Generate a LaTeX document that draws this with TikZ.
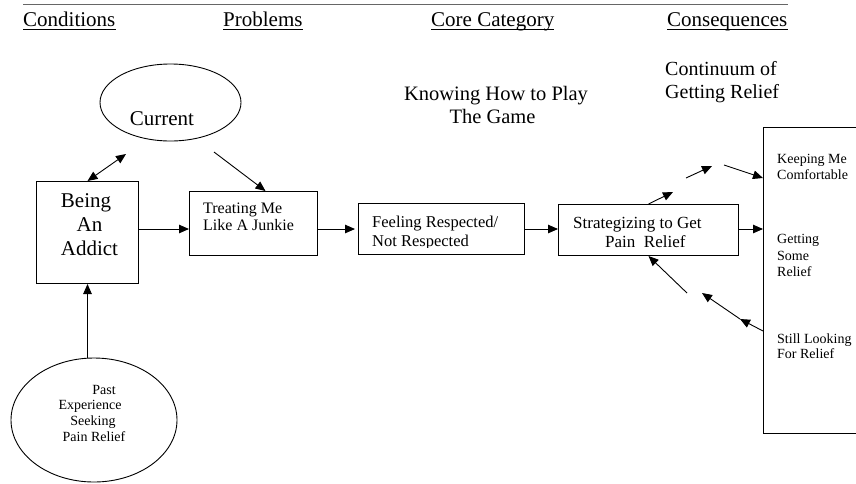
\documentclass[tikz,border=0pt]{standalone}
\usepackage{fontspec}
\setmainfont{Liberation Serif}
\usetikzlibrary{arrows.meta,shapes.geometric}
\newcommand{\fsz}[1]{\fontsize{#1}{#1}\selectfont}
\begin{document}
\begin{tikzpicture}[x=1pt,y=-1pt,
 box/.style={draw,line width=1pt,inner sep=0,anchor=north west},
 oval/.style={draw,ellipse,line width=0.9pt,inner sep=0},
 txt/.style={inner sep=0,anchor=base west},
 ctxt/.style={inner sep=0,anchor=base},
 arr/.style={line width=0.9pt,-{Triangle[length=10pt,width=8.5pt]}},
 darr/.style={line width=0.9pt,{Triangle[length=10pt,width=8.5pt]}-{Triangle[length=10pt,width=8.5pt]}},
 head/.style={inner sep=0,anchor=base west,font=\fsz{21}},
 uline/.style={line width=1.6pt}
]
\useasboundingbox (0,0) rectangle (856,483);
\clip (0,0) rectangle (856,483);
\fill[white] (0,0) rectangle (856,483);

% top rule and headers
\coordinate (tl) at (23,4);
\coordinate (tr) at (788,4);
\draw[black!60,line width=1pt] (tl) -- (tr);
\node[head] (h1) at (23,26) {Conditions};
\node[head] (h2) at (223,26) {Problems};
\node[head] (h3) at (431,26) {Core Category};
\node[head] (h4) at (667,26) {Consequences};
\foreach \h in {h1,h2,h3,h4}
  \draw[uline] ([yshift=-3.5pt]\h.base west) -- ([yshift=-3.5pt]\h.base east);

% Conditions
\node[oval,minimum width=141,minimum height=77] (current) at (170.5,102.5) {};
\node[ctxt,font=\fsz{21}] (curtxt) at (162,125) {Current};

\node[box,minimum width=102,minimum height=102] (being) at (36,181) {};
\node[ctxt,font=\fsz{21}] (b1) at (86,207) {Being};
\node[ctxt,font=\fsz{21}] (b2) at (89.5,231) {An};
\node[ctxt,font=\fsz{21}] (b3) at (89.5,255) {Addict};

\node[oval,minimum width=166,minimum height=124] (past) at (94,420) {};
\node[ctxt,font=\fsz{14}] (p1) at (104,394) {Past};
\node[ctxt,font=\fsz{14}] (p2) at (90,409) {Experience};
\node[ctxt,font=\fsz{14}] (p3) at (93,425) {Seeking};
\node[ctxt,font=\fsz{14}] (p4) at (94,441) {Pain Relief};

% Problems
\node[box,minimum width=128,minimum height=64] (treat) at (189,191) {};
\node[txt,font=\fsz{16}] (t1) at (203,213) {Treating Me};
\node[txt,font=\fsz{16}] (t2) at (203,230) {Like A Junkie};

% Core category
\node[ctxt,font=\fsz{20.5}] (k1) at (496,100) {Knowing How to Play};
\node[ctxt,font=\fsz{20.5}] (k2) at (492.5,123) {The Game};

\node[box,minimum width=166,minimum height=51] (feel) at (358,203) {};
\begin{scope}
  \clip (feel.north west) rectangle ([yshift=7.5pt]feel.south east);
  \node[txt,font=\fsz{16.5}] (f1) at (372,227) {Feeling Respected/};
  \node[txt,font=\fsz{16.5}] (f2) at (372,246.5) {Not Respected};
\end{scope}

\node[box,minimum width=180,minimum height=51] (strat) at (558,204) {};
\node[txt,font=\fsz{17}] (s1) at (573,228) {Strategizing to Get};
\node[txt,font=\fsz{17}] (s2) at (605,247) {Pain\ \ Relief};

% Consequences
\node[txt,font=\fsz{20}] (cn1) at (665,75) {Continuum of};
\node[txt,font=\fsz{20}] (cn2) at (665,98) {Getting Relief};

\node[box,minimum width=100,minimum height=306] (big) at (763,127) {};
\node[txt,font=\fsz{14}] (r1) at (777,163) {Keeping Me};
\node[txt,font=\fsz{14}] (r2) at (777,179) {Comfortable};
\node[txt,font=\fsz{14}] (r3) at (777,243) {Getting};
\node[txt,font=\fsz{14}] (r4) at (777,260) {Some};
\node[txt,font=\fsz{14}] (r5) at (777,276) {Relief};
\node[txt,font=\fsz{14}] (r6) at (777,343) {Still Looking};
\node[txt,font=\fsz{14}] (r7) at (777,358) {For Relief};

% connectors
\coordinate (ay) at (0,229);
\draw[arr] (being.east |- ay) -- (treat.west |- ay);
\draw[arr,shorten >=3pt] (treat.east |- ay) -- (feel.west |- ay);
\draw[arr] (feel.east |- ay) -- (strat.west |- ay);
\draw[arr] (strat.east |- ay) -- (big.west |- ay);
\draw[arr] (past.north -| being.south) -- (being.south);

\coordinate (c1) at (126,154);
\draw[darr] (being.north) -- (c1);
\coordinate (c2) at (214,152);
\draw[arr] (c2) -- ([xshift=12pt]treat.north);

\coordinate (u1) at (673,192);
\draw[arr] (strat.north) -- (u1);
\coordinate (u2a) at (686,178);
\coordinate (u2b) at (712,166);
\draw[arr] (u2a) -- (u2b);
\coordinate (u3) at (724,165);
\coordinate (u3e) at (0,178);
\draw[arr] (u3) -- (big.west |- u3e);

\coordinate (l1) at (0,331);
\coordinate (l2) at (740,319);
\coordinate (l3) at (702,293);
\draw[arr] (big.west |- l1) -- (l2);
\draw[arr] (l2) -- (l3);
\coordinate (l4) at (687,293);
\draw[arr] (l4) -- (strat.south);
\end{tikzpicture}
\end{document}
